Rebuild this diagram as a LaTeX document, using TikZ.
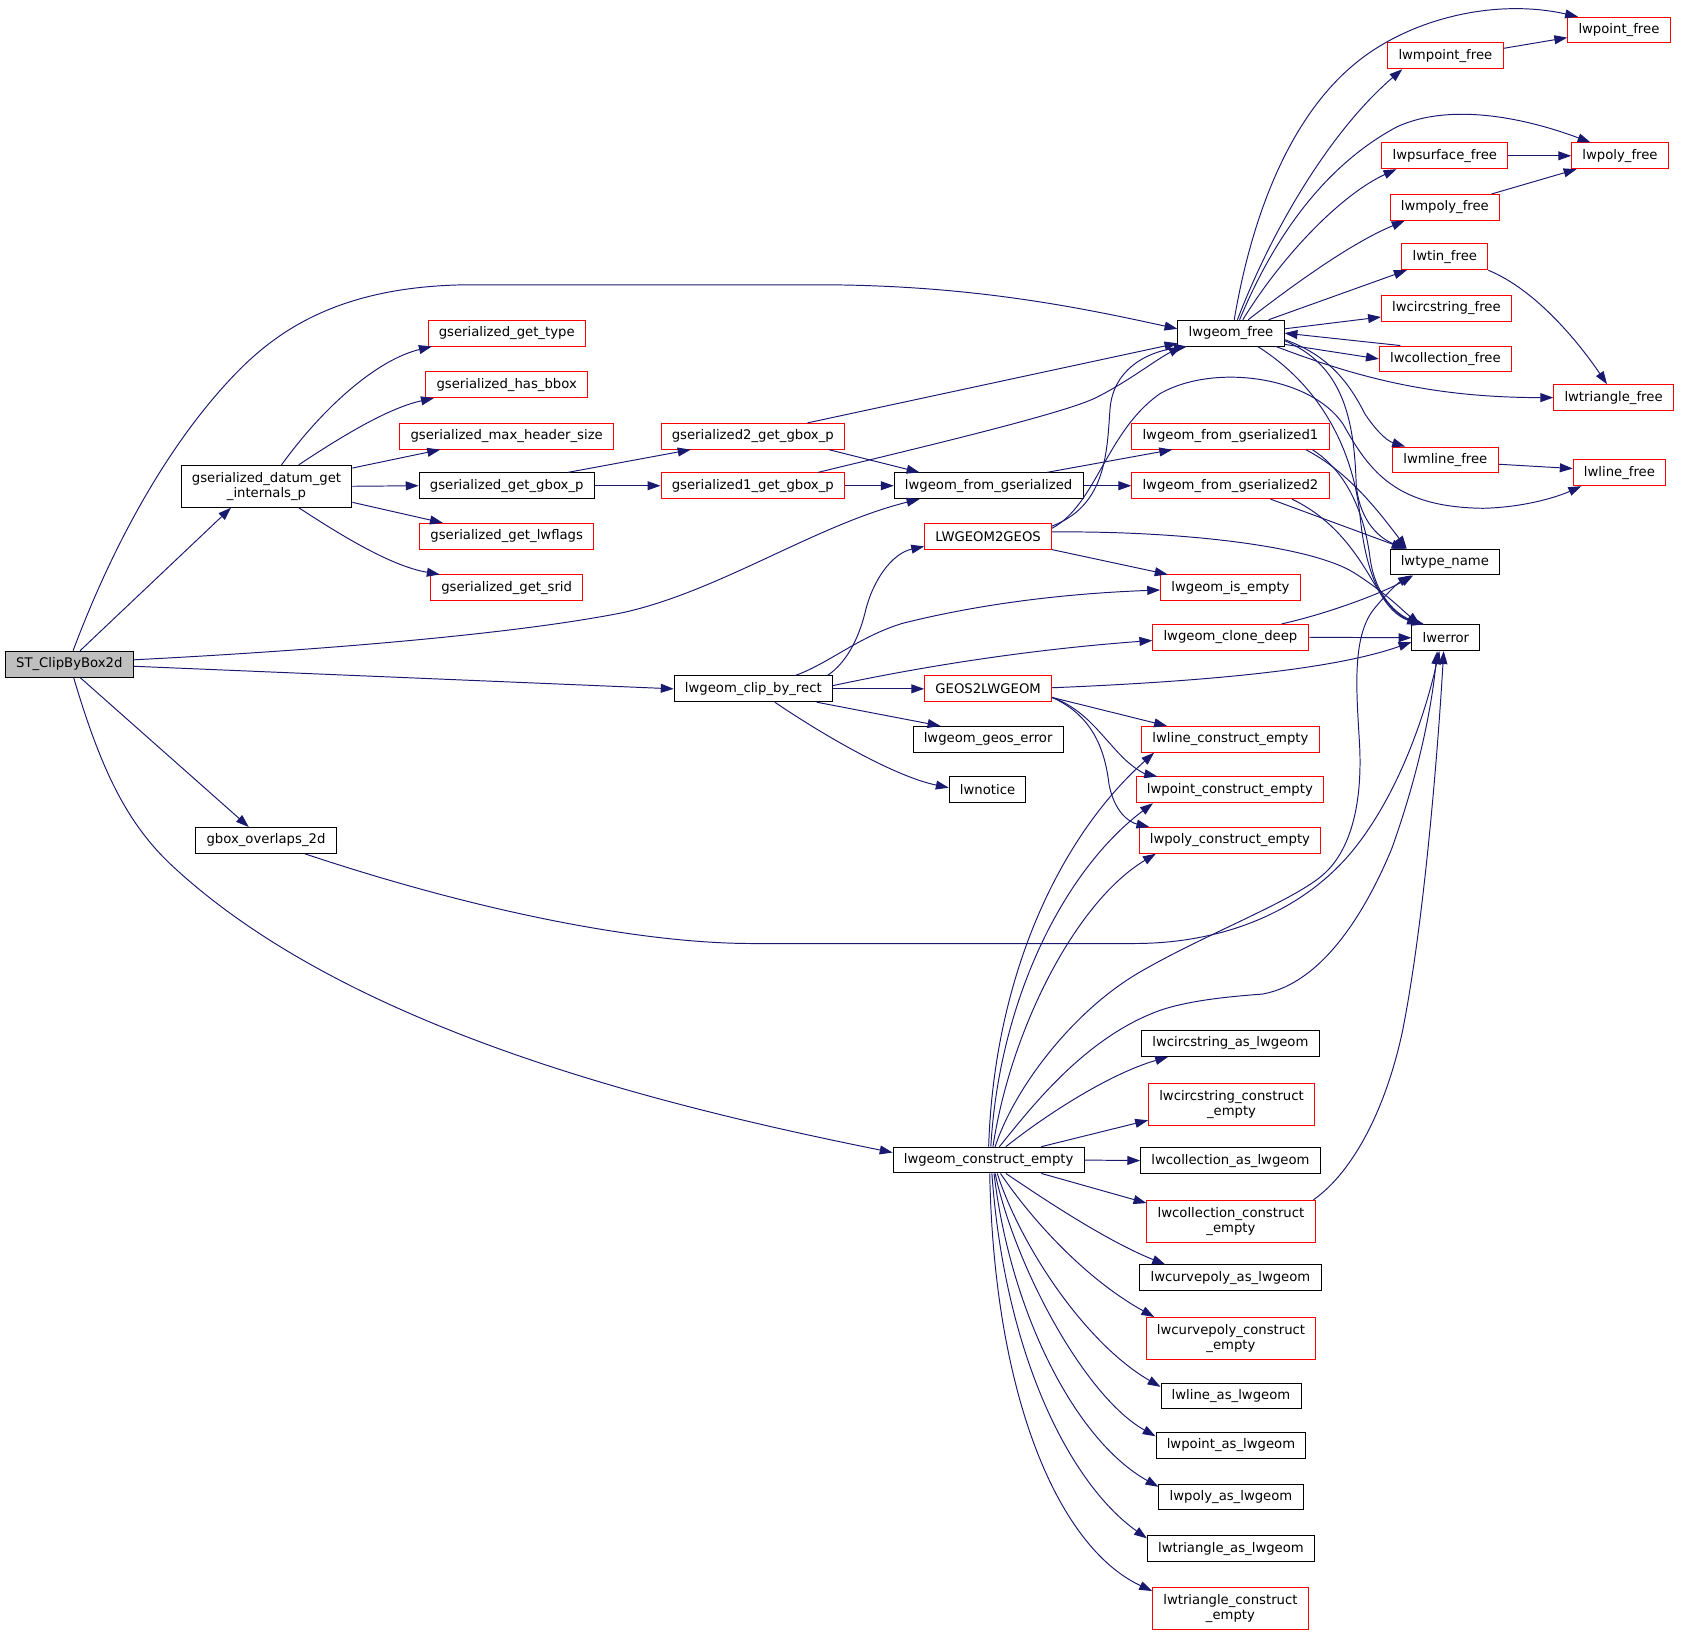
\documentclass[tikz,border=0pt]{standalone}
\usepackage{fontspec}
\setmainfont{DejaVu Sans}
\usetikzlibrary{arrows.meta}
\definecolor{edgec}{RGB}{25,25,112}
\definecolor{grayf}{RGB}{191,191,191}
\newcommand{\dxfont}{\fontsize{12.3}{14}\selectfont}
\begin{document}
\begin{tikzpicture}[x=1pt,y=-1pt,
 box/.style={draw=black, fill=white, line width=0.9pt, minimum height=24pt, inner xsep=10pt, inner ysep=0pt, font=\dxfont, align=center, anchor=center},
 rbox/.style={box, draw=red},
 tbox/.style={minimum height=39pt},
 call/.style={draw=edgec, line width=0.9pt, -{Triangle[length=12pt,width=8.3pt]}},
]
\useasboundingbox (0,0) rectangle (1568,1519.6);
% nodes
\node[box,fill=grayf] (st) at (64.5,618) {ST\_ClipByBox2d};
\node[box,tbox] (gd) at (248,452.5) {gserialized\_datum\_get\\\_internals\_p};
\node[rbox] (gtype) at (471.5,310) {gserialized\_get\_type};
\node[rbox] (ghas) at (471.5,358) {gserialized\_has\_bbox};
\node[rbox] (gmax) at (471.5,406) {gserialized\_max\_header\_size};
\node[box] (ggbox) at (471.5,452) {gserialized\_get\_gbox\_p};
\node[rbox] (gflags) at (471.5,499) {gserialized\_get\_lwflags};
\node[rbox] (gsrid) at (471.5,547) {gserialized\_get\_srid};
\node[rbox] (gtwo) at (700.5,406) {gserialized2\_get\_gbox\_p};
\node[rbox] (gone) at (700.5,452) {gserialized1\_get\_gbox\_p};
\node[box] (lfg) at (920,452) {lwgeom\_from\_gserialized};
\node[box] (lf) at (1145.5,310) {lwgeom\_free};
\node[rbox] (lwpoint) at (1506.5,28) {lwpoint\_free};
\node[rbox] (lwmpoint) at (1345,52) {lwmpoint\_free};
\node[rbox] (lwpsurface) at (1344.5,145) {lwpsurface\_free};
\node[rbox] (lwpoly) at (1507.5,145) {lwpoly\_free};
\node[rbox] (lwmpoly) at (1344.5,193) {lwmpoly\_free};
\node[rbox] (lwtin) at (1344.5,239) {lwtin\_free};
\node[rbox] (lwcircfree) at (1346,287) {lwcircstring\_free};
\node[rbox] (lwcollfree) at (1345,334) {lwcollection\_free};
\node[rbox] (lwtrifree) at (1501.5,370) {lwtriangle\_free};
\node[rbox] (lwmline) at (1345,428) {lwmline\_free};
\node[rbox] (lwline) at (1507,440) {lwline\_free};
\node[rbox] (lfgone) at (1145,406) {lwgeom\_from\_gserialized1};
\node[rbox] (lfgtwo) at (1145,452) {lwgeom\_from\_gserialized2};
\node[rbox] (ltog) at (919.5,499) {LWGEOM2GEOS};
\node[box] (ltype) at (1344.5,523) {lwtype\_name};
\node[rbox] (lisempty) at (1145,547) {lwgeom\_is\_empty};
\node[rbox] (lclone) at (1145,593) {lwgeom\_clone\_deep};
\node[box] (lerr) at (1345.5,593.5) {lwerror};
\node[box] (lclip) at (701,641) {lwgeom\_clip\_by\_rect};
\node[rbox] (gtol) at (919.5,641) {GEOS2LWGEOM};
\node[box] (lgeoserr) at (919.5,688) {lwgeom\_geos\_error};
\node[box] (lnotice) at (919,735) {lwnotice};
\node[rbox] (llce) at (1145,688) {lwline\_construct\_empty};
\node[rbox] (lpce) at (1144.5,735) {lwpoint\_construct\_empty};
\node[rbox] (lpolyce) at (1144.5,782) {lwpoly\_construct\_empty};
\node[box] (gov) at (247.5,782) {gbox\_overlaps\_2d};
\node[box] (lce) at (920,1079.5) {lwgeom\_construct\_empty};
\node[box] (lcas) at (1145,971) {lwcircstring\_as\_lwgeom};
\node[rbox,tbox] (lcce) at (1146,1027.5) {lwcircstring\_construct\\\_empty};
\node[box] (lcollas) at (1145,1080) {lwcollection\_as\_lwgeom};
\node[rbox,tbox] (lcollce) at (1145.5,1136.5) {lwcollection\_construct\\\_empty};
\node[box] (lcpas) at (1145,1189) {lwcurvepoly\_as\_lwgeom};
\node[rbox,tbox] (lcpce) at (1145.5,1245.5) {lwcurvepoly\_construct\\\_empty};
\node[box] (llas) at (1145.5,1299) {lwline\_as\_lwgeom};
\node[box] (lptas) at (1145.5,1345) {lwpoint\_as\_lwgeom};
\node[box] (lpas) at (1145.5,1393) {lwpoly\_as\_lwgeom};
\node[box] (ltas) at (1145.5,1441) {lwtriangle\_as\_lwgeom};
\node[rbox,tbox] (ltce) at (1145,1496.5) {lwtriangle\_construct\\\_empty};
% ST edges
\draw[call] ([xshift=3.5pt]st.north) .. controls (100,520) and (150,420) .. (218,349) .. controls (260,305) and (320,266) .. (436,265) -- (760,265) .. controls (900,265) and (1000,285) .. ([yshift=4pt]lf.west);
\draw[call] ([xshift=10pt]st.north) -- ([xshift=-33pt]gd.south);
\draw[call] ([yshift=4pt]st.east) .. controls (300,605) and (480,590) .. (580,570) .. controls (670,550) and (760,488) .. ([xshift=24pt]lfg.south west);
\draw[call] ([yshift=-2pt]st.east) -- (lclip.west);
\draw[call] ([xshift=10pt]st.south) -- ([xshift=-16pt]gov.north);
\draw[call] ([xshift=4pt]st.south) .. controls (95,720) and (120,770) .. (165,810) .. controls (330,960) and (620,1030) .. ([yshift=7pt]lce.west);
% gd edges
\draw[call] ([xshift=14pt]gd.north) .. controls (300,380) and (350,335) .. ([xshift=4pt]gtype.south west);
\draw[call] ([xshift=30pt]gd.north) .. controls (315,408) and (360,380) .. ([xshift=8pt]ghas.south west);
\draw[call] ([yshift=-3pt]gd.north east) -- ([xshift=38pt]gmax.south west);
\draw[call] (gd.east) -- (ggbox.west);
\draw[call] ([yshift=5pt]gd.south east) -- ([xshift=22pt]gflags.north west);
\draw[call] ([xshift=30pt]gd.south) .. controls (320,500) and (365,527) .. ([xshift=9pt]gsrid.north west);
% gbox chain
\draw[call] ([xshift=139pt]ggbox.north west) -- ([xshift=28pt]gtwo.south west);
\draw[call] (ggbox.east) -- (gone.west);
\draw[call] ([xshift=-35pt]gtwo.north east) -- ([yshift=3pt]lf.south west);
\draw[call] ([xshift=-15pt]gtwo.south east) -- ([xshift=24pt]lfg.north west);
\draw[call] ([xshift=-25pt]gone.north east) .. controls (850,418) and (990,385) .. (1020,370) .. controls (1050,355) and (1075,335) .. ([xshift=4pt]lf.south west);
\draw[call] (gone.east) -- (lfg.west);
\draw[call] ([xshift=-34pt]lfg.north east) -- ([xshift=38pt]lfgone.south west);
\draw[call] (lfg.east) -- (lfgtwo.west);
% LWGEOM2GEOS
\draw[call] ([yshift=-3pt]ltog.north east) .. controls (1030,470) and (1030,420) .. (1033,380) .. controls (1036,345) and (1065,328) .. ([xshift=9pt]lf.south west);
\draw[call] ([yshift=-5pt]ltog.north east) .. controls (1020,470) and (1030,400) .. (1080,366) .. controls (1130,338) and (1220,350) .. (1250,395) .. controls (1275,440) and (1300,472) .. (1380,473) .. controls (1420,472) and (1450,462) .. ([xshift=8pt]lwline.south west);
\draw[call] (ltog.south east) -- ([xshift=7pt]lisempty.north west);
\draw[call] ([yshift=4pt]ltog.east) .. controls (1100,494) and (1220,508) .. (1260,533) .. controls (1290,552) and (1305,568) .. ([xshift=8pt]lerr.north west);
% clip by rect
\draw[call] ([xshift=-5pt]lclip.north east) .. controls (790,615) and (800,590) .. (805,570) .. controls (812,540) and (830,515) .. ([yshift=3pt]ltog.south west);
\draw[call] ([xshift=-35pt]lclip.north east) .. controls (770,618) and (800,592) .. (840,580) .. controls (920,560) and (1000,552) .. ([yshift=-2pt]lisempty.west);
\draw[call] ([yshift=3pt]lclip.east) .. controls (850,622) and (950,605) .. ([yshift=-3pt]lclone.west);
\draw[call] (lclip.east) -- (gtol.west);
\draw[call] ([xshift=-15pt]lclip.south east) -- ([xshift=26pt]lgeoserr.north west);
\draw[call] ([xshift=20pt]lclip.south) .. controls (760,680) and (830,722) .. ([yshift=2pt]lnotice.west);
% GEOS2LWGEOM
\draw[call] ([yshift=1pt]gtol.east) .. controls (1150,633) and (1250,620) .. ([yshift=-4pt]lerr.west);
\draw[call] ([yshift=-8pt]gtol.east) -- ([xshift=24pt]llce.north west);
\draw[call] ([yshift=-8pt]gtol.east) .. controls (1010,660) and (1025,685) .. (1045,705) .. controls (1055,715) and (1065,720) .. ([xshift=20pt]lpce.north west);
\draw[call] ([yshift=-8pt]gtol.east) .. controls (1015,665) and (1028,695) .. (1032,730) .. controls (1037,755) and (1050,765) .. ([xshift=10pt]lpolyce.north west);
% clone deep
\draw[call] (lclone.east) -- (lerr.west);
\draw[call] ([xshift=-25pt]lclone.north east) .. controls (1240,570) and (1290,550) .. ([xshift=22pt]ltype.south west);
% lwgeom_free
\draw[call] ([xshift=3pt]lf.north) .. controls (1165,200) and (1200,110) .. (1260,60) .. controls (1310,18) and (1390,-2) .. ([xshift=10pt]lwpoint.north west);
\draw[call] ([xshift=6pt]lf.north) .. controls (1185,210) and (1240,120) .. ([xshift=14pt]lwmpoint.south west);
\draw[call] ([xshift=8pt]lf.north) .. controls (1190,210) and (1240,150) .. (1300,118) .. controls (1350,95) and (1420,110) .. ([xshift=18pt]lwpoly.north west);
\draw[call] ([xshift=11pt]lf.north) .. controls (1195,235) and (1250,180) .. ([xshift=14pt]lwpsurface.south west);
\draw[call] ([xshift=16pt]lf.north) .. controls (1210,260) and (1260,225) .. ([xshift=14pt]lwmpoly.south west);
\draw[call] ([xshift=35pt]lf.north) -- ([xshift=5pt]lwtin.south west);
\draw[call] ([yshift=4pt]lf.east) -- ([yshift=-8pt]lwcircfree.west);
\draw[call] ([xshift=20pt]lwcollfree.north west) -- (lf.east);
\draw[call] ([yshift=2pt]lf.south east) -- (lwcollfree.west);
\draw[call] ([xshift=-8pt]lf.south east) .. controls (1260,350) and (1330,370) .. (lwtrifree.west);
\draw[call] ([yshift=-6pt]lf.east) .. controls (1235,330) and (1255,355) .. (1270,385) .. controls (1280,400) and (1290,410) .. ([xshift=12pt]lwmline.north west);
\draw[call] ([yshift=-7pt]lf.east) .. controls (1250,340) and (1260,390) .. (1262,450) .. controls (1264,480) and (1280,500) .. ([xshift=16pt]ltype.north west);
\draw[call] ([xshift=-25pt]lf.south east) .. controls (1230,360) and (1260,420) .. (1266,484) .. controls (1272,540) and (1290,570) .. ([xshift=8pt]lerr.north west);
% free chains
\draw[call] ([yshift=7pt]lwmpoint.east) -- ([yshift=-7pt]lwpoint.west);
\draw[call] (lwpsurface.east) -- (lwpoly.west);
\draw[call] ([xshift=-8pt]lwmpoly.north east) -- ([xshift=5pt]lwpoly.south west);
\draw[call] (lwtin.south east) .. controls (1430,270) and (1470,320) .. ([xshift=50pt]lwtrifree.north west);
\draw[call] ([yshift=-4pt]lwmline.east) -- ([yshift=4pt]lwline.west);
% from_gserialized1/2
\draw[call] ([xshift=-22pt]lfgone.south east) .. controls (1250,437) and (1275,465) .. ([xshift=16pt]ltype.north west);
\draw[call] ([xshift=-16pt]lfgone.south east) .. controls (1255,440) and (1270,480) .. (1275,520) .. controls (1280,555) and (1300,572) .. ([xshift=10pt]lerr.north west);
\draw[call] ([xshift=-55pt]lfgtwo.south east) -- ([xshift=14pt]ltype.north west);
\draw[call] ([xshift=-35pt]lfgtwo.south east) .. controls (1245,485) and (1265,520) .. (1280,545) .. controls (1292,565) and (1305,576) .. ([xshift=12pt]lerr.north west);
% gbox_overlaps_2d
\draw[call] ([xshift=36pt]gov.south) .. controls (450,850) and (600,878) .. (700,878) -- (1055,878) .. controls (1150,878) and (1220,840) .. (1260,790) .. controls (1300,740) and (1325,670) .. ([xshift=26pt]lerr.south west);
% construct empty
\draw[call] ([xshift=6pt]lce.north) .. controls (945,1010) and (1000,940) .. (1060,905) .. controls (1120,870) and (1200,840) .. (1230,815) .. controls (1260,790) and (1268,740) .. (1265,690) .. controls (1262,640) and (1258,590) .. (1280,565) .. controls (1290,553) and (1300,543) .. ([xshift=20pt]ltype.south west);
\draw[call] ([xshift=10pt]lce.north) .. controls (960,1030) and (1010,965) .. (1080,940) .. controls (1110,930) and (1150,927) .. (1175,925) .. controls (1230,915) and (1270,850) .. (1295,790) .. controls (1320,720) and (1332,660) .. ([xshift=24pt]lerr.south west);
\draw[call] (lce.north) .. controls (925,910) and (985,780) .. ([xshift=12pt]llce.south west);
\draw[call] ([xshift=2pt]lce.north) .. controls (930,930) and (990,810) .. ([xshift=16pt]lpce.south west);
\draw[call] ([xshift=4pt]lce.north) .. controls (940,960) and (1000,840) .. ([xshift=16pt]lpolyce.south west);
\draw[call] ([xshift=16pt]lce.north) .. controls (970,1040) and (1030,1000) .. ([xshift=25pt]lcas.south west);
\draw[call] ([xshift=49pt]lce.north) -- ([yshift=5pt]lcce.south west);
\draw[call] (lce.east) -- (lcollas.west);
\draw[call] ([xshift=49pt]lce.south) -- ([yshift=-3pt]lcollce.north west);
\draw[call] ([xshift=16pt]lce.south) .. controls (970,1115) and (1030,1155) .. ([xshift=24pt]lcpas.north west);
\draw[call] ([xshift=11pt]lce.south) .. controls (960,1135) and (1010,1190) .. ([xshift=8pt]lcpce.north west);
\draw[call] ([xshift=8pt]lce.south) .. controls (950,1160) and (1010,1250) .. ([yshift=-4pt]llas.north west);
\draw[call] ([xshift=6pt]lce.south) .. controls (945,1180) and (1010,1300) .. ([yshift=-4pt]lptas.north west);
\draw[call] ([xshift=5pt]lce.south) .. controls (940,1220) and (1000,1340) .. ([yshift=-3pt]lpas.north west);
\draw[call] ([xshift=3pt]lce.south) .. controls (935,1260) and (995,1380) .. ([yshift=-3pt]ltas.north west);
\draw[call] ([xshift=1pt]lce.south) .. controls (925,1300) and (985,1440) .. ([yshift=-4pt]ltce.north west);
\draw[call] ([xshift=-2pt]lcollce.north east) .. controls (1260,1090) and (1290,1030) .. (1305,960) .. controls (1325,860) and (1338,700) .. ([xshift=30pt]lerr.south west);
\end{tikzpicture}
\end{document}
